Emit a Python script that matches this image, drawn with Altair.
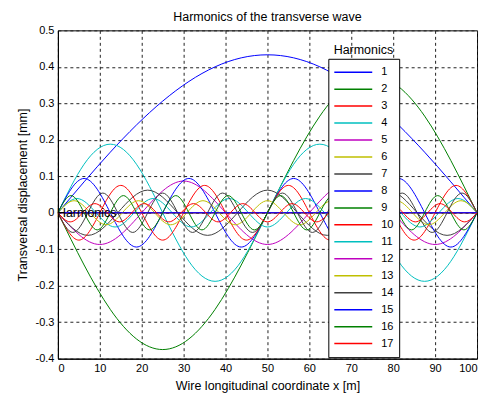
import altair as alt
import pandas as pd

# Harmonic numbers and MATLAB-style colour order (b g r c m y k ...)
harmonics = [str(i) for i in range(1, 18)]
colors = ["#0000ff", "#008000", "#ff0000", "#00bfbf", "#bf00bf", "#bfbf00", "#404040",
          "#0000ff", "#008000", "#ff0000", "#00bfbf", "#bf00bf", "#bfbf00", "#404040",
          "#0000ff", "#008000", "#ff0000"]

# Displacement [mm] of each harmonic read at equally spaced points along the wire (0..100 m)
h1 = [0.0, 0.166, 0.306, 0.400, 0.433, 0.400, 0.306, 0.166, 0.0]
h2 = [0.0, -0.265, -0.375, -0.265, 0.0, 0.265, 0.375, 0.265, 0.0]
h3 = [0.0, 0.0]
h4 = [0.0, 0.133, 0.188, 0.133, 0.0, -0.133, -0.188, -0.133, 0.0,
      0.133, 0.188, 0.133, 0.0, -0.133, -0.188, -0.133, 0.0]
h5 = [0.0, -0.087, 0.0, 0.087, 0.0, -0.087, 0.0, 0.087, 0.0, -0.087, 0.0]
h6 = [0.0, 0.0]
h7 = [0.0, -0.062, 0.0, 0.062, 0.0, -0.062, 0.0, 0.062, 0.0, -0.062, 0.0, 0.062, 0.0, -0.062, 0.0]
h8 = [0.0, 0.094, 0.0, -0.094, 0.0, 0.094, 0.0, -0.094, 0.0,
      0.094, 0.0, -0.094, 0.0, 0.094, 0.0, -0.094, 0.0]
h9 = [0.0, 0.0]
h10 = [0.0, -0.075, 0.0, 0.075, 0.0, -0.075, 0.0, 0.075, 0.0, -0.075, 0.0,
       0.075, 0.0, -0.075, 0.0, 0.075, 0.0, -0.075, 0.0, 0.075, 0.0]
h11 = [0.0, 0.039, 0.0, -0.039, 0.0, 0.039, 0.0, -0.039, 0.0, 0.039, 0.0, -0.039,
       0.0, 0.039, 0.0, -0.039, 0.0, 0.039, 0.0, -0.039, 0.0, 0.039, 0.0]
h12 = [0.0, 0.0]
h13 = [0.0, 0.033, 0.0, -0.033, 0.0, 0.033, 0.0, -0.033, 0.0, 0.033, 0.0, -0.033, 0.0, 0.033,
       0.0, -0.033, 0.0, 0.033, 0.0, -0.033, 0.0, 0.033, 0.0, -0.033, 0.0, 0.033, 0.0]
h14 = [0.0, -0.054, 0.0, 0.054, 0.0, -0.054, 0.0, 0.054, 0.0, -0.054, 0.0, 0.054, 0.0, -0.054, 0.0,
       0.054, 0.0, -0.054, 0.0, 0.054, 0.0, -0.054, 0.0, 0.054, 0.0, -0.054, 0.0, 0.054, 0.0]
h15 = [0.0, 0.0]
h16 = [0.0, 0.047, 0.0, -0.047, 0.0, 0.047, 0.0, -0.047, 0.0, 0.047, 0.0, -0.047, 0.0, 0.047, 0.0, -0.047, 0.0,
       0.047, 0.0, -0.047, 0.0, 0.047, 0.0, -0.047, 0.0, 0.047, 0.0, -0.047, 0.0, 0.047, 0.0, -0.047, 0.0]
h17 = [0.0, -0.025, 0.0, 0.025, 0.0, -0.025, 0.0, 0.025, 0.0, -0.025, 0.0, 0.025, 0.0, -0.025, 0.0, 0.025, 0.0, -0.025,
       0.0, 0.025, 0.0, -0.025, 0.0, 0.025, 0.0, -0.025, 0.0, 0.025, 0.0, -0.025, 0.0, 0.025, 0.0, -0.025, 0.0]

series = [h1, h2, h3, h4, h5, h6, h7, h8, h9, h10, h11, h12, h13, h14, h15, h16, h17]
wire_length = 100.0

x_ticks = [0, 10, 20, 30, 40, 50, 60, 70, 80, 90, 100]
y_ticks = [-0.4, -0.3, -0.2, -0.1, 0.0, 0.1, 0.2, 0.3, 0.4, 0.5]

rows = []
for name, vals in zip(harmonics, series):
    n = len(vals)
    for i, v in enumerate(vals):
        rows.append({"x": wire_length * i / (n - 1), "y": v, "harmonic": name, "idx": i})
df = pd.DataFrame(rows)

FONT = "Liberation Sans"

x_enc = alt.X("x:Q", scale=alt.Scale(domain=[0, 100], nice=False),
              axis=alt.Axis(values=x_ticks, tickCount=len(x_ticks),
                            title="Wire longitudinal coordinate x [m]", labelOverlap=False))
y_enc = alt.Y("y:Q", scale=alt.Scale(domain=[-0.4, 0.5], nice=False, zero=False),
              axis=alt.Axis(values=y_ticks, tickCount=len(y_ticks),
                            title="Transversal displacement [mm]", labelOverlap=False,
                            labelExpr="replace(format(datum.value, '.1~f'), '\u2212', '-')"))

lines = alt.Chart(df).mark_line(interpolate="natural", strokeWidth=1, clip=True).encode(
    x=x_enc,
    y=y_enc,
    order="idx:Q",
    color=alt.Color("harmonic:N", sort=harmonics,
                    scale=alt.Scale(domain=harmonics, range=colors),
                    legend=alt.Legend(title=None, orient="none", legendX=271, legendY=28.5,
                                      direction="vertical", symbolType="stroke", symbolSize=1444,
                                      symbolStrokeWidth=1.5, labelFontSize=11, labelFont=FONT,
                                      labelColor="black", strokeColor="black", fillColor="white",
                                      padding=5, rowPadding=0, clipHeight=16.8, labelOffset=8)),
)

note_df = pd.DataFrame({"x": [0.0], "y": [0.0], "label": ["Harmonics"]})
note = alt.Chart(note_df).mark_text(align="left", baseline="middle", dx=-1, fontSize=12.5,
                                    font=FONT, color="black").encode(
    x="x:Q", y="y:Q", text="label:N")

ltitle_df = pd.DataFrame({"x": [72.9], "y": [0.447], "label": ["Harmonics"]})
ltitle = alt.Chart(ltitle_df).mark_text(align="center", baseline="middle", fontSize=12.5,
                                        font=FONT, color="black").encode(
    x="x:Q", y="y:Q", text="label:N")

chart = alt.layer(lines, note, ltitle).properties(
    width=420, height=329,
    padding={"left": 50, "top": 22, "right": 8, "bottom": 34},
    autosize=alt.AutoSizeParams(type="none"),
    title=alt.TitleParams("Harmonics of the transverse wave", fontSize=12.5, font=FONT,
                          fontWeight="normal", anchor="middle", baseline="alphabetic",
                          offset=9, dy=18, color="black", frame="group"),
).configure_view(stroke="black", strokeWidth=1).configure_axis(
    domainColor="black", domainWidth=1, ticks=False, grid=True, gridColor="#222222",
    gridDash=[3, 3], gridOpacity=1, gridWidth=1, labelFont=FONT, labelFontSize=11,
    labelColor="black", titleFont=FONT, titleFontSize=12.5, titleFontWeight="normal",
    titleColor="black", labelPadding=4, titlePadding=6, labelOverlap=False, labelSeparation=0
)

chart.save("out.html", embed_options={"renderer": "svg", "actions": False})
